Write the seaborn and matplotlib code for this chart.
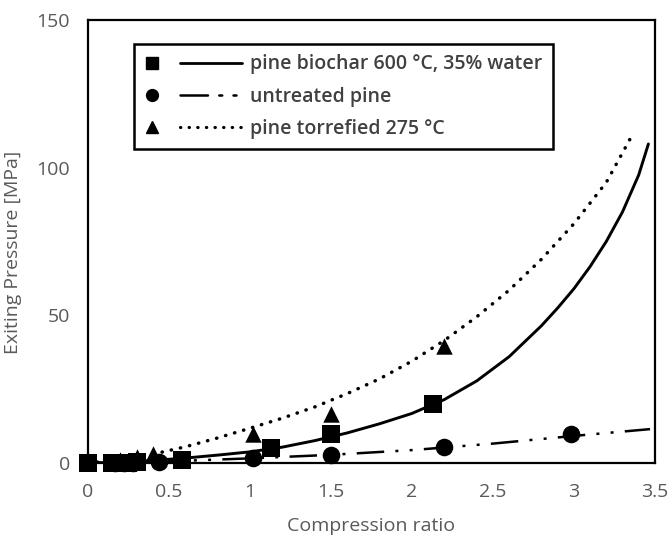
import matplotlib
matplotlib.use("Agg")
import matplotlib.pyplot as plt
import seaborn as sns
import pandas as pd
from matplotlib.lines import Line2D
from matplotlib.legend_handler import HandlerBase

# ---------------- data ----------------
biochar_x = [0, 0.15, 0.2, 0.25, 0.3, 0.58, 1.13, 1.5, 2.13]
biochar_y = [0, 0, 0, 0.2, 0.3, 1.0, 5.0, 10.0, 20.0]

untreated_x = [0.17, 0.22, 0.28, 0.44, 1.02, 1.5, 2.2, 2.98]
untreated_y = [0, 0, 0.2, 0.5, 1.6, 2.8, 5.3, 9.8]

torrefied_x = [0.2, 0.3, 0.4, 1.02, 1.5, 2.2]
torrefied_y = [1.2, 2.0, 3.0, 10.0, 16.5, 39.5]

biochar_fit_x = [0, 0.2, 0.4, 0.6, 0.8, 1.0, 1.2, 1.4, 1.6, 1.8, 2.0, 2.2,
                 2.4, 2.6, 2.8, 2.9, 3.0, 3.1, 3.2, 3.3, 3.4, 3.46]
biochar_fit_y = [0, 0.3, 0.9, 1.7, 2.7, 3.8, 5.4, 7.6, 10.2, 13.3, 16.8, 21.5,
                 27.8, 36, 46.5, 52.5, 59, 66.5, 75, 85, 97.5, 108]

untreated_fit_x = [0, 0.5, 1.0, 1.5, 2.0, 2.5, 3.0, 3.47]
untreated_fit_y = [0, 0.6, 1.6, 2.8, 4.4, 6.6, 9.2, 11.5]

torrefied_fit_x = [0, 0.2, 0.4, 0.6, 0.8, 1.0, 1.2, 1.4, 1.6, 1.8, 2.0, 2.2,
                   2.4, 2.6, 2.8, 3.0, 3.2, 3.35]
torrefied_fit_y = [0, 1.2, 3.0, 5.5, 8.5, 11.8, 15.2, 19, 23.5, 28.5, 34.5, 41.5,
                   49.5, 58.5, 69, 81, 95, 110]

labels = ["pine biochar 600 °C, 35% water", "untreated pine", "pine torrefied 275 °C"]
x_ticks = [0, 0.5, 1, 1.5, 2, 2.5, 3, 3.5]
x_tick_labels = ["0", "0.5", "1", "1.5", "2", "2.5", "3", "3.5"]
y_ticks = [0, 50, 100, 150]
x_label = "Compression ratio"
y_label = "Exiting Pressure [MPa]"

# ---------------- style ----------------
sns.set_theme(style="white")
plt.rcParams["font.family"] = ["Open Sans", "DejaVu Sans"]

fig = plt.figure(figsize=(6.71, 5.36), dpi=100)
ax = fig.add_axes([0.131, 0.136, 0.845, 0.827])

dash_dot_dot = (0, (11, 4.5, 1.2, 4.5, 1.2, 4.5))
dotted = (0, (0.1, 2.6))

sns.lineplot(x=biochar_fit_x, y=biochar_fit_y, ax=ax, color="black", lw=2.1,
             sort=False, estimator=None)
sns.lineplot(x=untreated_fit_x, y=untreated_fit_y, ax=ax, color="black", lw=1.8,
             sort=False, estimator=None, linestyle=dash_dot_dot)
sns.lineplot(x=torrefied_fit_x, y=torrefied_fit_y, ax=ax, color="black", lw=2.5,
             sort=False, estimator=None, linestyle=dotted, dash_capstyle="round")

for xs, ys, mk, sz in [(biochar_x, biochar_y, "s", 160),
                       (untreated_x, untreated_y, "o", 160),
                       (torrefied_x, torrefied_y, "^", 140)]:
    sns.scatterplot(x=xs, y=ys, ax=ax, marker=mk, s=sz, color="black",
                    edgecolor="black", linewidth=0, zorder=5)
for coll in ax.collections:
    coll.set_clip_on(False)

ax.set_xlim(0, 3.5)
ax.set_ylim(0, 150)
ax.set_xticks(x_ticks)
ax.set_xticklabels(x_tick_labels)
ax.set_yticks(y_ticks)
for sp in ax.spines.values():
    sp.set_color("black")
    sp.set_linewidth(1.6)
ax.tick_params(axis="both", direction="in", length=5, width=1.6, color="black",
               labelsize=14, labelcolor="#595959")
ax.tick_params(axis="x", pad=14)
ax.tick_params(axis="y", pad=13)
ax.set_xlabel(x_label, fontsize=14, color="#595959", labelpad=12)
ax.set_ylabel(y_label, fontsize=14, color="#595959")
ax.yaxis.set_label_coords(-0.116, 0.476)


# ---------------- legend ----------------
class MarkerLineHandler(HandlerBase):
    def create_artists(self, legend, orig_handle, xdescent, ydescent, width,
                       height, fontsize, trans):
        mk, ln = orig_handle
        y = height / 2 - ydescent
        x0 = -xdescent
        m = Line2D([x0 + 0.08 * width], [y], marker=mk.get_marker(),
                   markersize=mk.get_markersize(), color="black", linestyle="none")
        m.set_transform(trans)
        l = Line2D([x0 + 0.36 * width, x0 + width], [y, y])
        l.update_from(ln)
        l.set_transform(trans)
        return [l, m]


handles = []
for mk, ls, lw in [("s", "-", 2.0), ("o", dash_dot_dot, 1.8), ("^", dotted, 2.3)]:
    mh = Line2D([], [], marker=mk, markersize=8.5, color="black", linestyle="none")
    lh = Line2D([], [], color="black", linestyle=ls, linewidth=lw, dash_capstyle="round")
    handles.append((mh, lh))

leg = ax.legend(handles, labels, handler_map={tuple: MarkerLineHandler()},
                loc="upper left", bbox_to_anchor=(0.081, 0.946), borderaxespad=0,
                frameon=True, fancybox=False, edgecolor="black", framealpha=1,
                prop={"size": 14, "weight": "semibold"}, handlelength=5.0,
                handletextpad=0.45, borderpad=0.55, labelspacing=0.62)
leg.get_frame().set_linewidth(1.8)
for t in leg.get_texts():
    t.set_color("#404040")

fig.savefig("out.png", dpi=100)
